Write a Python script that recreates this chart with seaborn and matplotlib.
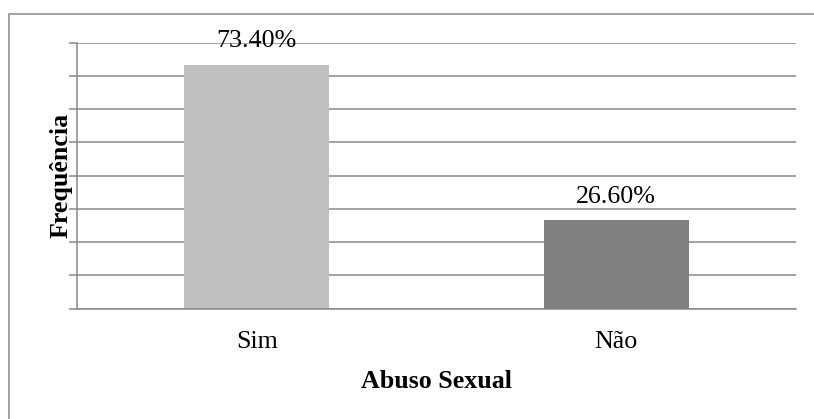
import matplotlib
matplotlib.use("Agg")
import matplotlib.pyplot as plt
import seaborn as sns
import pandas as pd
from matplotlib.patches import Rectangle

# ---- data ----
categories = ["Sim", "Não"]
values = [73.40, 26.60]
value_labels = ["73.40%", "26.60%"]
bar_colors = ["#BFBFBF", "#808080"]
x_title = "Abuso Sexual"
y_title = "Frequência"
y_ticks = [0, 10, 20, 30, 40, 50, 60, 70, 80]

sns.set_theme(style="white")
plt.rcParams['font.family'] = ['Liberation Serif', 'DejaVu Serif']

FS = 18.7
GRID = "#868686"
LW = 1.08

W, H = 814, 419
fig = plt.figure(figsize=(W / 100, H / 100), dpi=100)
ax = fig.add_axes([77 / W, 1 - 308.5 / H, (796 - 77) / W, (308.5 - 42.7) / H])

df = pd.DataFrame({"cat": categories, "val": values})
sns.barplot(data=df, x="cat", y="val", hue="cat", palette=bar_colors,
            legend=False, width=0.403, saturation=1, linewidth=0,
            edgecolor="none", ax=ax)

ax.set_ylim(0, 80)
ax.set_yticks(y_ticks)
ax.set_yticklabels([])
ax.set_xlim(-0.5, 1.5)
ax.set_axisbelow(True)
ax.yaxis.grid(True, color=GRID, linewidth=LW)
ax.xaxis.grid(False)

for side in ["top", "right"]:
    ax.spines[side].set_visible(False)
for side in ["left", "bottom"]:
    ax.spines[side].set_visible(True)
    ax.spines[side].set_color(GRID)
    ax.spines[side].set_linewidth(LW)

ax.tick_params(axis="y", direction="out", length=5.8, width=LW, color=GRID,
               left=True, labelleft=False)
ax.tick_params(axis="x", length=0, pad=16, labelsize=FS, labelcolor="black")

for i, (v, lab) in enumerate(zip(values, value_labels)):
    ax.annotate(lab, xy=(i, v), xytext=(0, 12.6), textcoords="offset points",
                ha="center", va="baseline", fontsize=FS, color="black")

ax.set_ylabel(y_title, fontsize=FS, fontweight="bold", color="black")
ax.yaxis.set_label_coords(-0.0061, 0.5)
ax.set_xlabel(x_title, fontsize=FS, fontweight="bold", color="black")
ax.xaxis.set_label_coords(0.5, -0.233)

fig.add_artist(Rectangle((8.7 / W, -0.1), 1.2, (1 - 14 / H) + 0.1,
                         transform=fig.transFigure, fill=False,
                         edgecolor=GRID, linewidth=LW, clip_on=False))

fig.savefig("out.png", dpi=100)
